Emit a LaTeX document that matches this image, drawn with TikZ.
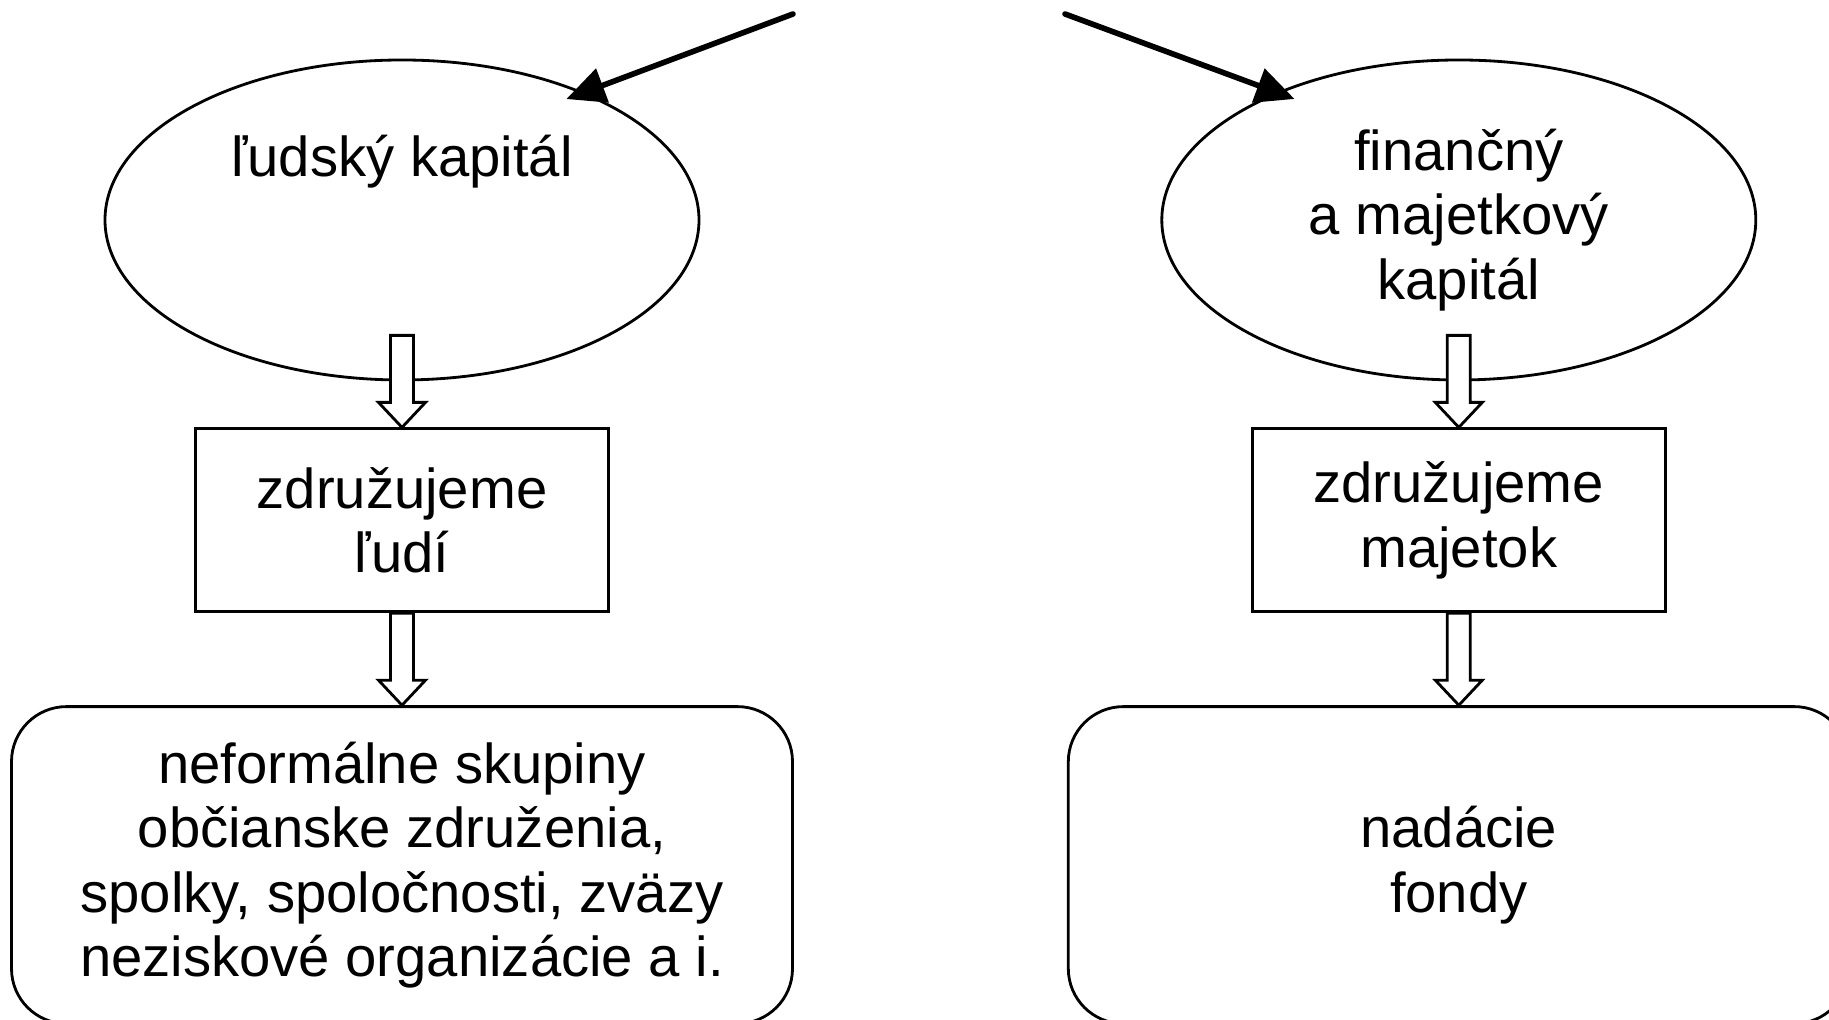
\documentclass[tikz,border=0pt]{standalone}
\usepackage{fontspec}
\setmainfont{Liberation Sans}
\usepackage{tikz}
\usetikzlibrary{shapes.geometric, arrows.meta, positioning, calc}
\tikzstyle{capital} = [ellipse, draw, line width=0.8pt, minimum width=5.94cm, minimum height=3.2cm, inner sep=0pt, align=center]
\tikzstyle{grp} = [rectangle, draw, line width=0.8pt, minimum width=4.13cm, minimum height=1.83cm, align=center]
\tikzstyle{org} = [rectangle, draw, line width=0.8pt, rounded corners=0.55cm, minimum width=7.81cm, minimum height=3.17cm, align=center]
\tikzstyle{arrow} = [line width=1.6pt, line cap=round, shorten >=-5.5pt, -{Triangle[length=11pt,width=10pt]}]
\tikzstyle{hollow} = [draw, line width=0.8pt, fill=white, line join=miter]
% block arrow from #1 down to #2
\newcommand{\blockarrow}[2]{%
  \path[hollow] ($(#1)+(-0.115,0)$) -- ($(#2)+(-0.115,0.25)$) -- ($(#2)+(-0.235,0.25)$) -- (#2)
    -- ($(#2)+(0.235,0.25)$) -- ($(#2)+(0.115,0.25)$) -- ($(#1)+(0.115,0)$) -- cycle;}

\begin{document}
\begin{tikzpicture}[font=\fontsize{16}{18.3}\selectfont]
        \useasboundingbox (0,0) rectangle (18.29,-10.20);
        \node (lcap) [capital] at (4.02,-2.20) {ľudský kapitál\\\mbox{}\\\mbox{}};
        \node (rcap) [capital, right=4.60cm of lcap] {finančný\\a majetkový\\kapitál};
        \node (lgrp) [grp, below=0.46cm of lcap] {združujeme\\ľudí};
        \node (rgrp) [grp, below=0.46cm of rcap] {združujeme\\majetok};
        \node (lorg) [org, below=0.92cm of lgrp] {neformálne skupiny\\občianske združenia,\\spolky, spoločnosti, zväzy\\neziskové organizácie a i.};
        \node (rorg) [org, below=0.92cm of rgrp] {nadácie\\fondy};

        \coordinate (lsrc) at (7.93,-0.14);
        \coordinate (rsrc) at (10.65,-0.14);
        \draw[arrow] (lsrc) -- (lcap.35);
        \draw[arrow] (rsrc) -- (rcap.145);

        \coordinate (ltail) at ([yshift=0.46cm]lcap.south);
        \coordinate (rtail) at ([yshift=0.46cm]rcap.south);
        \blockarrow{ltail}{lgrp.north}
        \blockarrow{rtail}{rgrp.north}
        \blockarrow{lgrp.south}{lorg.north}
        \blockarrow{rgrp.south}{rorg.north}
    \end{tikzpicture}
\end{document}
